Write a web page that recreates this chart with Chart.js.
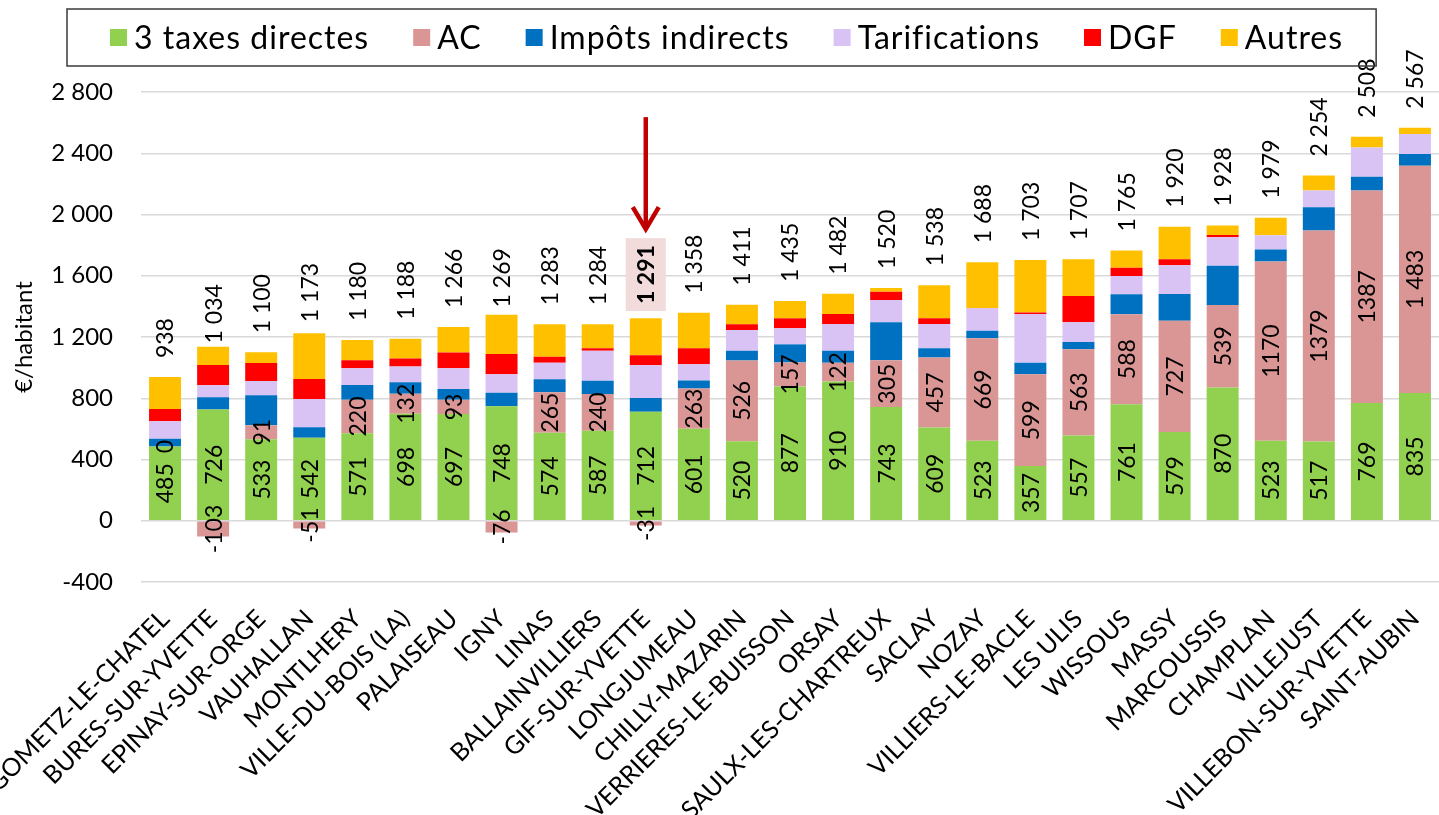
<!DOCTYPE html>
<html><head><meta charset="utf-8">
<script src="https://cdn.jsdelivr.net/npm/chart.js@4.4.1/dist/chart.umd.min.js"></script>
<style>html,body{margin:0;padding:0;background:#fff;overflow:hidden}</style>
</head><body>
<canvas id="c" width="1439" height="815"></canvas>
<script>
// ---- data ----
const communes = ['GOMETZ-LE-CHATEL','BURES-SUR-YVETTE','EPINAY-SUR-ORGE','VAUHALLAN','MONTLHERY','VILLE-DU-BOIS (LA)','PALAISEAU','IGNY','LINAS','BALLAINVILLIERS','GIF-SUR-YVETTE','LONGJUMEAU','CHILLY-MAZARIN','VERRIERES-LE-BUISSON','ORSAY','SAULX-LES-CHARTREUX','SACLAY','NOZAY','VILLIERS-LE-BACLE','LES ULIS','WISSOUS','MASSY','MARCOUSSIS','CHAMPLAN','VILLEJUST','VILLEBON-SUR-YVETTE','SAINT-AUBIN'];
const taxesDirectes = [485,726,533,542,571,698,697,748,574,587,712,601,520,877,910,743,609,523,357,557,761,579,870,523,517,769,835];
const ac = [0,-103,91,-51,220,132,93,-76,265,240,-31,263,526,157,122,305,457,669,599,563,588,727,539,1170,1379,1387,1483];
const impotsIndirects = [50,80,195,68,95,75,70,88,85,88,90,52,65,118,78,248,60,49,76,48,131,175,257,79,151,91,77];
const tarifications = [115,79,94,185,110,103,136,120,108,196,213,106,135,105,175,146,159,146,318,128,118,187,185,92,109,190,131];
const dgf = [80,132,117,131,52,52,102,133,39,15,66,104,37,65,65,54,37,3,10,172,55,39,15,0,0,0,0];
const autres = [208,120,70,298,132,128,168,256,212,158,241,232,128,113,132,24,216,298,343,239,112,213,62,115,98,71,41];
const totals = [938,1034,1100,1173,1180,1188,1266,1269,1283,1284,1291,1358,1411,1435,1482,1520,1538,1688,1703,1707,1765,1920,1928,1979,2254,2508,2567];
const yTicks = [-400,0,400,800,1200,1600,2000,2400,2800];
const seriesNames = ['3 taxes directes','AC','Impôts indirects','Tarifications','DGF','Autres'];
const highlighted = 'GIF-SUR-YVETTE';
const acNoSeparator = ['CHAMPLAN','VILLEJUST','VILLEBON-SUR-YVETTE'];

const colors = ['#92D050','#DA9694','#0070C0','#D9C3F5','#FF0000','#FFC000'];
const FONT = "Lato, 'Open Sans', sans-serif";

function fmt(v){
  const s = String(Math.abs(v)).replace(/\B(?=(\d{3})+(?!\d))/g,' ');
  return (v<0?'-':'')+s;
}

const legendPlugin = {
  id:'boxLegend',
  afterDraw(chart){
    const ctx = chart.ctx;
    ctx.save();
    ctx.font = '32px '+FONT;
    if ('letterSpacing' in ctx) ctx.letterSpacing = '1px';
    ctx.textBaseline = 'middle';
    const box = 17, gapText = 7, gapItem = 44, padL = 43, padR = 33;
    const widths = chart.data.datasets.map(d=>ctx.measureText(d.label).width);
    let total = 0;
    widths.forEach((w,i)=>{ total += box+gapText+w + (i<widths.length-1?gapItem:0); });
    const bw = total+padL+padR;
    const bx = Math.round(722 - bw/2);
    const by = 9, bh = 57, cy = by+bh/2;
    ctx.strokeStyle = '#3a3a3a'; ctx.lineWidth = 1.5;
    ctx.strokeRect(bx, by, bw, bh);
    let x = bx+padL;
    chart.data.datasets.forEach((d,i)=>{
      ctx.fillStyle = d.backgroundColor;
      ctx.fillRect(x, cy-box/2, box, box);
      ctx.fillStyle = '#000';
      ctx.textAlign = 'left';
      ctx.fillText(d.label, x+box+gapText, cy+1);
      x += box+gapText+widths[i]+gapItem;
    });
    ctx.restore();
  }
};

const labelPlugin = {
  id:'segLabels',
  afterDatasetsDraw(chart){
    const ctx = chart.ctx;
    ctx.save();
    ctx.fillStyle = '#000';
    ctx.font = '23px '+FONT;
    [0,1].forEach(di=>{
      const meta = chart.getDatasetMeta(di);
      meta.data.forEach((el,i)=>{
        const v = chart.data.datasets[di].data[i];
        let txt = fmt(v);
        if (di===1 && acNoSeparator.includes(communes[i])) txt = String(v);
        const cy = (el.y+el.base)/2;
        ctx.save();
        ctx.translate(el.x, cy);
        ctx.rotate(-Math.PI/2);
        ctx.textAlign = 'center'; ctx.textBaseline = 'middle';
        ctx.fillText(txt, 0, 1);
        ctx.restore();
      });
    });
    // totals
    const ys = chart.scales.y;
    const meta0 = chart.getDatasetMeta(0);
    totals.forEach((t,i)=>{
      const x = meta0.data[i].x;
      const y = ys.getPixelForValue(t) - 19;
      const txt = fmt(t);
      const hl = communes[i]===highlighted;
      ctx.font = (hl?'bold ':'')+'23px '+FONT;
      const w = ctx.measureText(txt).width;
      if (hl){
        const top = y - w - 7, bottom = y + 7;
        ctx.fillStyle = '#F2DCDB';
        ctx.fillRect(x-20, top, 40, bottom-top);
        // arrow
        const tip = top - 6, start = tip - 115;
        ctx.strokeStyle = '#C00000'; ctx.lineWidth = 4.5; ctx.lineCap = 'butt';
        ctx.beginPath(); ctx.moveTo(x, start); ctx.lineTo(x, tip-3); ctx.stroke();
        ctx.lineJoin = 'miter';
        ctx.beginPath(); ctx.moveTo(x-13, tip-25); ctx.lineTo(x, tip-3); ctx.lineTo(x+13, tip-25); ctx.stroke();
      }
      ctx.fillStyle = '#000';
      ctx.save();
      ctx.translate(x, y);
      ctx.rotate(-Math.PI/2);
      ctx.textAlign = 'left'; ctx.textBaseline = 'middle';
      ctx.fillText(txt, 0, 1);
      ctx.restore();
    });
    ctx.restore();
  }
};

const datasets = [taxesDirectes, ac, impotsIndirects, tarifications, dgf, autres].map((arr,i)=>({
  label: seriesNames[i], data: arr, backgroundColor: colors[i], borderWidth: 0,
  stack: 's', categoryPercentage: 1.0, barPercentage: 0.665
}));

new Chart(document.getElementById('c'), {
  type:'bar',
  data:{ labels: communes, datasets },
  options:{
    responsive:false, animation:false, devicePixelRatio:1,
    layout:{ padding:{ top:92, right:0, left:0, bottom:0 } },
    plugins:{ legend:{display:false}, tooltip:{enabled:false} },
    font:{ family: FONT },
    scales:{
      x:{
        stacked:true,
        grid:{display:false}, border:{display:false},
        ticks:{ font:{family:FONT,size:25}, color:'#000', minRotation:45, maxRotation:45, autoSkip:false, padding:14 },
        afterFit(s){ s.paddingLeft = 0; s.paddingRight = 0; s.height = 233; }
      },
      y:{
        stacked:true, min:-400, max:2800,
        afterBuildTicks(s){ s.ticks = yTicks.map(v=>({value:v})); },
        grid:{ color:'#D9D9D9', lineWidth:1.5, drawTicks:false },
        border:{display:false},
        ticks:{ font:{family:FONT,size:24}, color:'#000', padding:28, callback:(v)=>fmt(v) },
        title:{ display:true, text:'€/habitant', font:{family:FONT,size:24}, color:'#000', padding:{top:10,bottom:0} },
        afterFit(s){ s.width = 141; }
      }
    }
  },
  plugins:[legendPlugin, labelPlugin]
});
</script>
</body></html>
